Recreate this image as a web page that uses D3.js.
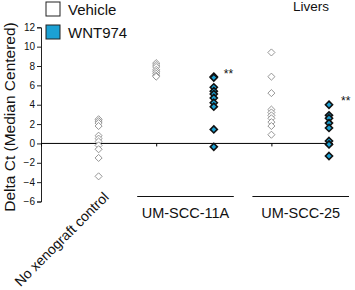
<!DOCTYPE html>
<html>
<head>
<meta charset="utf-8">
<script src="https://cdn.jsdelivr.net/npm/d3@7"></script>
<style>
  body { margin: 0; background: #fff; }
  text { font-family: "Liberation Sans", Arial, sans-serif; fill: #111; }
</style>
</head>
<body>
<svg id="chart" width="355" height="290"></svg>
<script>
// groups along the x axis ("" is the empty slot at the y axis)
var slots = ["", "none", "11A_veh", "11A_wnt", "25_veh", "25_wnt"];
var noXeno = [2.5, 2.3, 2.1, 1.8, 0.8, 0.5, 0.2, -0.2, -0.6, -1.5, -3.4];
var scc11Vehicle = [8.3, 8.1, 7.9, 7.6, 7.4, 7.2, 7.0, 6.9];
var scc11Wnt = [6.9, 6.8, 5.8, 5.4, 5.1, 4.7, 4.2, 3.8, 1.45, -0.35];
var scc25Vehicle = [9.4, 6.9, 5.2, 3.5, 3.2, 2.9, 2.6, 2.2, 1.8, 0.9];
var scc25Wnt = [4.0, 2.9, 2.6, 2.1, 1.6, 0.25, -0.1, -1.3];
var yTicks = [12, 10, 8, 6, 4, 2, 0, -2, -4, -6];
var cellLines = ["UM-SCC-11A", "UM-SCC-25"];

(function () {
    var svg = d3.select("#chart");
    var blue = "#1ba1d4";

    var x = d3.scalePoint().domain(slots).range([41, 329]);
    var y = d3.scaleLinear().domain([-6, 12]).range([201.5, 27.3]);

    // y axis
    var yAxis = svg.append("g")
        .attr("transform", "translate(41,0)")
        .call(d3.axisLeft(y).tickValues(yTicks).tickSize(4).tickPadding(2));
    yAxis.select(".domain").attr("stroke", "#222");
    yAxis.selectAll(".tick line").attr("stroke", "#222");
    yAxis.selectAll("text").style("font-size", "10px").attr("fill", "#222");

    // zero line with category ticks
    var xAxis = svg.append("g")
        .attr("transform", "translate(0," + y(0) + ")")
        .call(d3.axisBottom(x).tickSize(3).tickSizeOuter(0).tickFormat(""));
    xAxis.select(".domain").attr("stroke", "#000").attr("d", "M41,0H333");
    xAxis.selectAll(".tick line").attr("stroke", "#000");

    var series = [
        {slot: "none", values: noXeno, drug: false},
        {slot: "11A_veh", values: scc11Vehicle, drug: false},
        {slot: "11A_wnt", values: scc11Wnt, drug: true},
        {slot: "25_veh", values: scc25Vehicle, drug: false},
        {slot: "25_wnt", values: scc25Wnt, drug: true}
    ];

    var diamond = d3.symbol().type(d3.symbolDiamond2).size(32);

    series.forEach(function (s) {
        svg.append("g").selectAll("path")
            .data(s.values)
            .enter().append("path")
            .attr("d", diamond)
            .attr("transform", function (d) {
                return "translate(" + x(s.slot) + "," + y(d) + ")";
            })
            .attr("fill", s.drug ? blue : "#fff")
            .attr("stroke", s.drug ? "#111" : "#8a8a8a")
            .attr("stroke-width", s.drug ? 1.6 : 0.9);
    });

    // significance stars
    svg.append("text").attr("x", x("11A_wnt") + 10).attr("y", y(7.5) + 7)
        .style("font-size", "12px").text("**");
    svg.append("text").attr("x", x("25_wnt") + 12).attr("y", y(4.7) + 7)
        .style("font-size", "12px").text("**");

    // group lines and labels
    var groupSpan = [["11A_veh", "11A_wnt"], ["25_veh", "25_wnt"]];
    groupSpan.forEach(function (g, i) {
        var x0 = x(g[0]) - 19, x1 = x(g[1]) + 20;
        svg.append("line").attr("x1", x0).attr("x2", x1)
            .attr("y1", 196.5).attr("y2", 196.5)
            .attr("stroke", "#111").attr("stroke-width", 1.2);
        svg.append("text").attr("x", (x0 + x1) / 2).attr("y", 218)
            .attr("text-anchor", "middle").style("font-size", "14.5px")
            .text(cellLines[i]);
    });

    svg.append("text")
        .attr("transform", "translate(" + (x("none") + 11) + ",198) rotate(-45)")
        .attr("text-anchor", "end").style("font-size", "14px")
        .text("No xenograft control");

    // y axis title
    svg.append("text")
        .attr("transform", "translate(14.5,117) rotate(-90)")
        .attr("text-anchor", "middle").style("font-size", "15.5px")
        .text("Delta Ct (Median Centered)");

    // legend
    var legend = [["Vehicle", "#fff"], ["WNT974", blue]];
    legend.forEach(function (l, i) {
        svg.append("rect").attr("x", 46).attr("y", 2 + i * 23)
            .attr("width", 14).attr("height", 14)
            .attr("fill", l[1]).attr("stroke", "#222").attr("stroke-width", 1);
        svg.append("text").attr("x", 68).attr("y", 14.5 + i * 23)
            .style("font-size", "15px").text(l[0]);
    });

    svg.append("text").attr("x", 293).attr("y", 11)
        .style("font-size", "13.5px").text("Livers");
})();
</script>
</body>
</html>
